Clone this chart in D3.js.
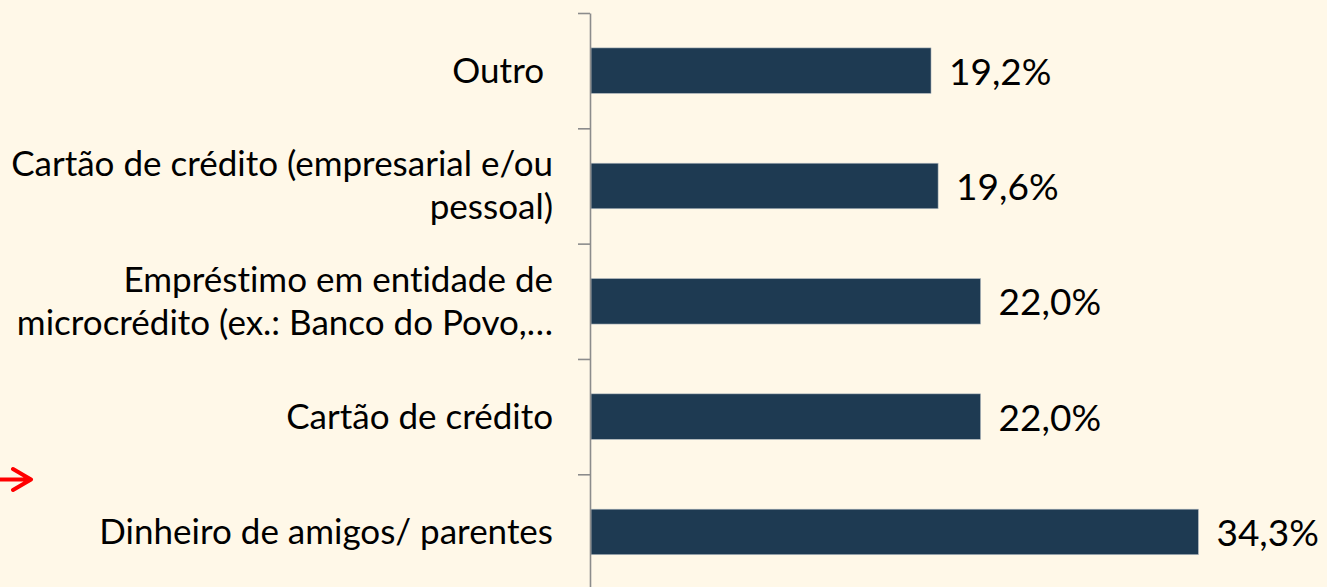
<!DOCTYPE html>
<html>
<head>
<meta charset="utf-8">
<script src="https://cdn.jsdelivr.net/npm/d3@7"></script>
<style>
  html, body { margin: 0; padding: 0; background: #fff8e8; }
  svg { display: block; }
  text { font-variant-ligatures: none; }
</style>
</head>
<body>
<div id="chart"></div>
<script>
// categories, top to bottom, with their wrapped label lines
const categories = ["Outro", "Cartão de crédito (empresarial e/ou pessoal)", "Empréstimo em entidade de microcrédito", "Cartão de crédito", "Dinheiro de amigos/ parentes"];
const label_lines = [
    ["Outro\u00a0"],
    ["Cartão de crédito (empresarial e/ou", "pessoal)"],
    ["Empréstimo em entidade de", "microcrédito (ex.: Banco do Povo,…"],
    ["Cartão de crédito"],
    ["Dinheiro de amigos/ parentes"]
];
const values = [19.2, 19.6, 22.0, 22.0, 34.3];
const value_labels = ["19,2%", "19,6%", "22,0%", "22,0%", "34,3%"];

function create_chart() {
    const W = 1327, H = 587;
    const margin = {top: 13, left: 591};
    const band_bottom = 589.6;

    const svg = d3.select("#chart").append("svg")
        .attr("width", W)
        .attr("height", H);

    svg.append("rect")
        .attr("width", W)
        .attr("height", H)
        .attr("fill", "#fff8e8");

    const data = categories.map((c, i) => ({
        category: c,
        lines: label_lines[i],
        value: values[i],
        label: value_labels[i]
    }));

    const scale_y = d3.scaleBand()
        .domain(categories)
        .range([margin.top, band_bottom])
        .paddingInner(0.605)
        .paddingOuter(0.3025);

    // per-unit width (34,3% ends near x=1198)
    const scale_x = d3.scaleLinear()
        .domain([0, 35])
        .range([margin.left, margin.left + 35 * 17.71]);

    // bars
    svg.selectAll("rect.bar")
        .data(data)
        .join("rect")
        .attr("class", "bar")
        .attr("x", scale_x(0))
        .attr("y", d => scale_y(d.category))
        .attr("width", d => scale_x(d.value) - scale_x(0))
        .attr("height", scale_y.bandwidth())
        .attr("fill", "#1e3a52")
        .attr("stroke", "#b9c0c6")
        .attr("stroke-width", 0.6);

    // category axis: ticks at the band boundaries
    const scale_tick = d3.scaleLinear()
        .domain([0, categories.length])
        .range([margin.top, band_bottom]);

    const yAxis = svg.append("g")
        .attr("transform", `translate(${margin.left - 1}, 0)`)
        .call(d3.axisLeft(scale_tick)
            .tickValues(d3.range(categories.length + 1))
            .tickFormat("")
            .tickSizeInner(12)
            .tickSizeOuter(0));
    yAxis.select(".domain")
        .attr("stroke", "#8c8c8c")
        .attr("stroke-width", 1.6);
    yAxis.selectAll(".tick line")
        .attr("stroke", "#8c8c8c")
        .attr("stroke-width", 1.6);

    // category labels
    const line_height = 43;
    const cat_labels = svg.selectAll("text.cat")
        .data(data)
        .join("text")
        .attr("class", "cat")
        .attr("text-anchor", "end")
        .style("font-family", "Lato, 'Open Sans', sans-serif")
        .style("font-size", "35px")
        .attr("fill", "#000");

    cat_labels.each(function(d) {
        const cy = scale_y(d.category) + scale_y.bandwidth() / 2;
        const n = d.lines.length;
        d3.select(this).selectAll("tspan")
            .data(d.lines)
            .join("tspan")
            .attr("x", 553)
            .attr("y", (t, i) => cy + 12 + (i - (n - 1) / 2) * line_height)
            .text(t => t);
    });

    // value labels
    svg.selectAll("text.val")
        .data(data)
        .join("text")
        .attr("class", "val")
        .attr("x", d => scale_x(d.value) + 18)
        .attr("y", d => scale_y(d.category) + scale_y.bandwidth() / 2 + 14)
        .style("font-family", "Lato, 'Open Sans', sans-serif")
        .style("font-size", "37px")
        .attr("fill", "#000")
        .text(d => d.label);

    // red arrow annotation at the left edge
    svg.append("path")
        .attr("d", "M0,479.5 L30,479.5 M13,469 L31,479.5 L13,490")
        .attr("fill", "none")
        .attr("stroke", "#ff0000")
        .attr("stroke-width", 4)
        .attr("stroke-linecap", "round")
        .attr("stroke-linejoin", "round");
}
create_chart();
</script>
</body>
</html>
